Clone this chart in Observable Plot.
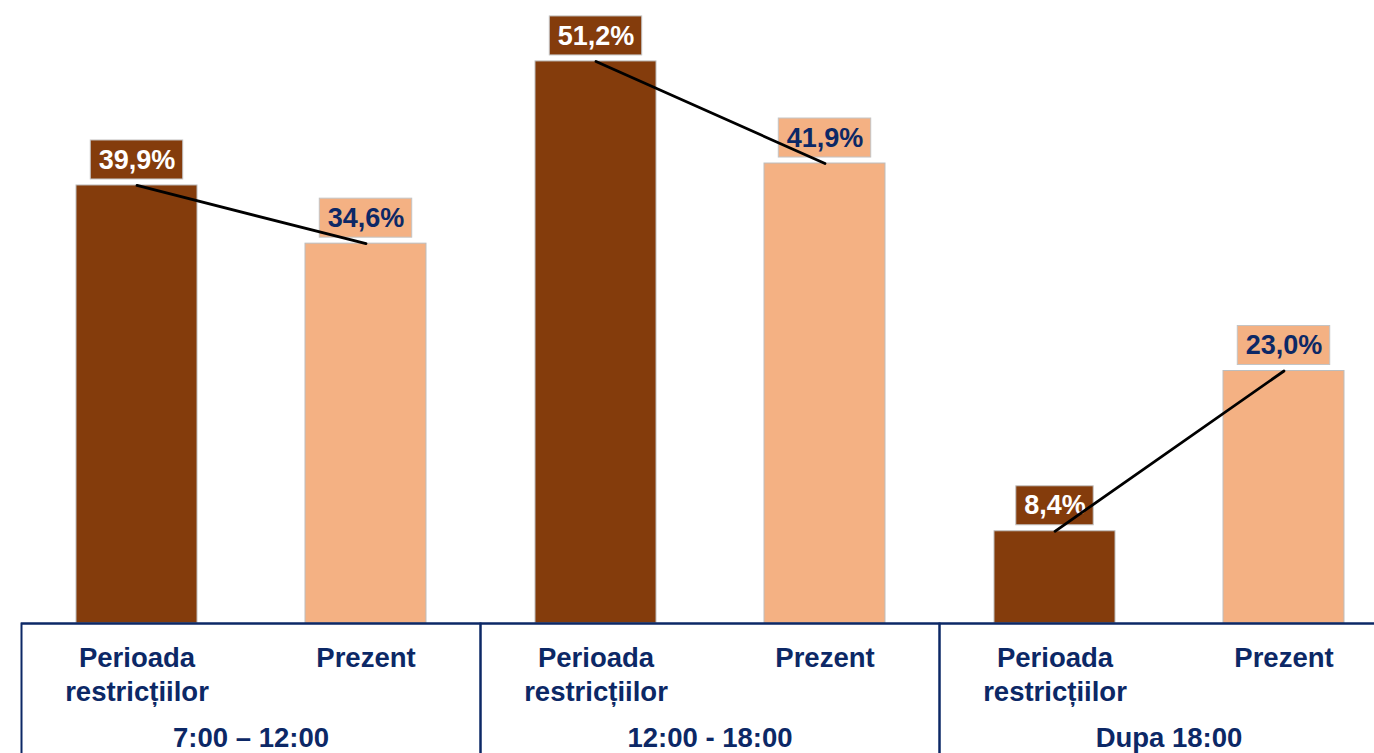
<!DOCTYPE html>
<html><head><meta charset="utf-8">
<script src="https://cdn.jsdelivr.net/npm/d3@7"></script>
<script src="https://cdn.jsdelivr.net/npm/@observablehq/plot@0.6"></script>
<style>
body{margin:0;background:#fff;}
#chart{width:1374px;height:753px;overflow:hidden;}
#chart svg{max-width:none !important;}
</style></head><body><div id="chart"></div>
<script>
// ---- data ----
const groups = ["7:00 – 12:00", "12:00 - 18:00", "Dupa 18:00"];
const periods = ["Perioada restricțiilor", "Prezent"];
const restrictii = [39.9, 51.2, 8.4];
const prezent = [34.6, 41.9, 23.0];
const periodColors = ["#843C0C", "#F4B183"];
const labelTextColors = ["#ffffff", "#0c2866"];

const navy = "#0c2866";
const data = groups.flatMap((g, i) => [
  {group: g, period: periods[0], value: restrictii[i]},
  {group: g, period: periods[1], value: prezent[i]}
]);
const fmt = v => v.toFixed(1).replace(".", ",") + "%";

// ---- layout ----
const W = 1399, H = 753, ML = 20, MR = 0, MB = 130;
const pInner = 0.473, pOuter = pInner / 2;
const facetW = (W - ML - MR) / groups.length;
const step = facetW / (periods.length - pInner + 2 * pOuter);
const bw = step * (1 - pInner);
const font = "bold 27px 'Liberation Sans', Arial, sans-serif";
const ctx = document.createElement("canvas").getContext("2d");
ctx.font = font;
const boxInset = d => Math.max(0, (bw - (ctx.measureText(fmt(d.value)).width + 16)) / 2);

const boxMarks = data.map(d => Plot.barY([d], {
  fx: "group", x: "period", y1: "value", y2: "value",
  fill: d.period === periods[0] ? periodColors[0] : periodColors[1],
  stroke: "#c4c4c4", strokeWidth: 1,
  insetTop: -45, insetBottom: 6,
  insetLeft: boxInset(d), insetRight: boxInset(d)
}));

const chart = Plot.plot({
  width: W, height: H,
  marginLeft: ML, marginRight: MR, marginTop: 0, marginBottom: MB,
  style: {fontFamily: "'Liberation Sans', Arial, sans-serif", fontWeight: "bold", background: "#fff", maxWidth: "none"},
  fx: {domain: groups, padding: 0, label: null},
  x: {domain: periods, paddingInner: pInner, paddingOuter: pOuter, label: null},
  y: {domain: [0, 56.75], axis: null},
  color: {domain: periods, range: periodColors},
  marks: [
    Plot.barY(data, {fx: "group", x: "period", y: "value", fill: "period", stroke: "#bdbdbd", strokeWidth: 1}),
    Plot.frame({stroke: navy, strokeWidth: 2, insetTop: H - MB, insetBottom: -MB - 2}),
    Plot.ruleY([0], {stroke: navy, strokeWidth: 2}),
    ...boxMarks,
    ...periods.map((p, k) => Plot.text(data.filter(d => d.period === p), {
      fx: "group", x: "period", y: "value", text: d => fmt(d.value),
      dy: -25.5, lineAnchor: "middle", fontSize: 27, fontWeight: "bold",
      fill: labelTextColors[k]
    })),
    Plot.lineY(data, {fx: "group", x: "period", y: "value", z: "group", stroke: "#000", strokeWidth: 2.8}),
    Plot.axisX({tickSize: 0, tickPadding: 19, fontSize: 27.5, fontWeight: "bold", color: navy,
      lineHeight: 1.236, label: null, tickFormat: d => d.replace(" ", "\n")}),
    Plot.axisFx({anchor: "bottom", tickSize: 0, tickPadding: 104, fontSize: 27.5, fontWeight: "bold",
      color: navy, label: null})
  ]
});
document.getElementById("chart").append(chart);
</script>
</body></html>
